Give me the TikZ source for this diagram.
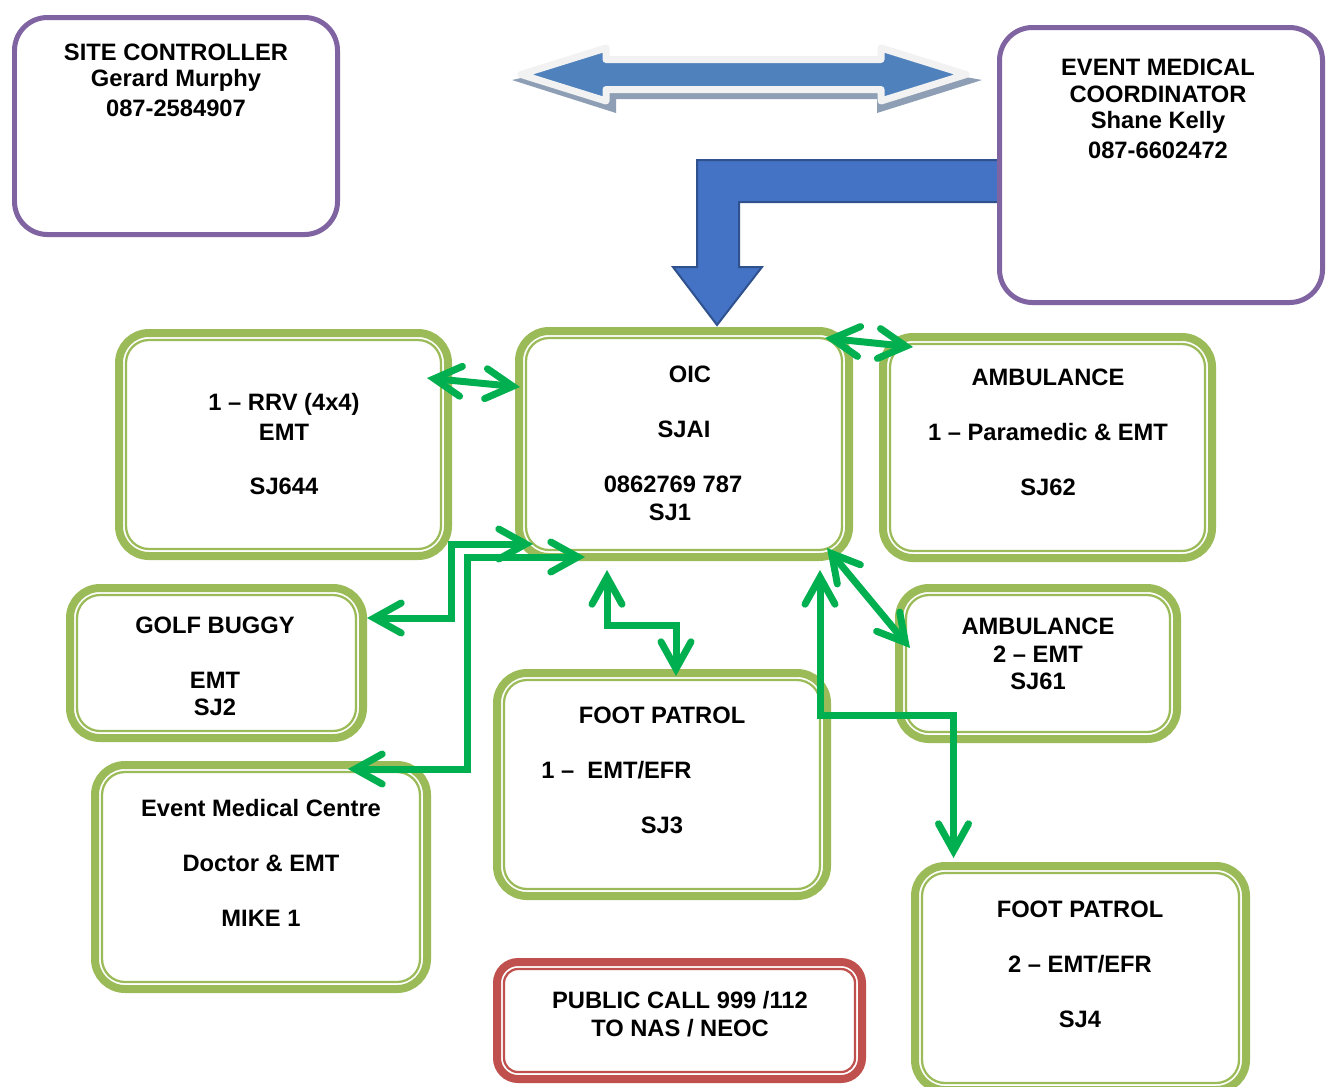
\documentclass[tikz,border=0pt]{standalone}
\usepackage{fontspec}
\setmainfont{Liberation Sans}
\usetikzlibrary{arrows.meta,calc,fit}
\definecolor{gbord}{HTML}{9BBB59}
\definecolor{garrow}{HTML}{00B050}
\definecolor{purp}{HTML}{8064A2}
\definecolor{redb}{HTML}{C0504D}
\definecolor{bluefill}{HTML}{4F81BD}
\definecolor{bluel}{HTML}{4472C4}
\definecolor{bluelo}{HTML}{2F528F}
\definecolor{shad}{HTML}{8E9FB5}
\definecolor{outl}{HTML}{F2F2F2}
\begin{document}
\begin{tikzpicture}[x=0.02cm,y=-0.02cm,
  lbl/.style={font=\bfseries\fontsize{13.5}{16}\selectfont, inner sep=0pt, anchor=center},
  pbox/.style={draw=purp, line width=0.1cm, rounded corners=0.66cm, fill=white, inner sep=0pt, outer sep=0pt},
  gouter/.style={draw=gbord, line width=0.16cm, rounded corners=0.6cm, fill=white, inner sep=0pt, outer sep=0pt},
  ginner/.style={draw=gbord, line width=0.045cm, rounded corners=0.46cm},
  router/.style={draw=redb, line width=0.16cm, rounded corners=0.42cm, fill=white, inner sep=0pt, outer sep=0pt},
  rinner/.style={draw=redb, line width=0.045cm, rounded corners=0.28cm},
  garr/.style={draw=garrow, line width=0.14cm, line join=miter,
    {Straight Barb[length=0.54cm,width=0.6cm,line cap=round]}-{Straight Barb[length=0.54cm,width=0.6cm,line cap=round]}}
]
\useasboundingbox (0,0) rectangle (1327,1086);
\fill[white] (0,0) rectangle (1327,1086);

% double-headed block arrow with shadow
\fill[shad] (512,80) -- (616,113) -- (616,99) -- (877,99) -- (877,113) -- (982,80) -- (960,76) -- (530,76) -- cycle;
\draw[draw=outl, line width=0.14cm, line join=round, fill=bluefill]
  (521,74.5) -- (606,48) -- (606,59.5) -- (881,59.5) -- (881,48) -- (966,74.5)
  -- (881,101) -- (881,89.5) -- (606,89.5) -- (606,101) -- cycle;

% bent block arrow
\draw[draw=bluelo, line width=0.04cm, fill=bluel]
  (1000,160) -- (697,160) -- (697,267) -- (673,267) -- (717,325) -- (762,267)
  -- (739,267) -- (739,202) -- (1000,202) -- cycle;

% purple boxes
\node[pbox, fit={(14.5,17.5) (337.5,234.5)}] (site) {};
\node[pbox, fit={(999.5,27.5) (1322.5,302.5)}] (emc) {};

% green boxes
\node[gouter, fit={(119,333) (448,556)}] (rrv) {};
\node[gouter, fit={(519,331) (849,557)}] (oic) {};
\node[gouter, fit={(883,337) (1212,558)}] (amb1) {};
\node[gouter, fit={(70,588) (363,738)}] (golf) {};
\node[gouter, fit={(899,588) (1177,739)}] (amb2) {};
\node[gouter, fit={(497,673) (827,896)}] (fp1) {};
\node[gouter, fit={(95,765) (427,989)}] (med) {};
\node[gouter, fit={(915,866) (1246,1090)}] (fp2) {};
\foreach \n in {rrv,oic,amb1,golf,amb2,fp1,med,fp2}
  \draw[ginner] ($(\n.south west)+(7,-7)$) rectangle ($(\n.north east)+(-7,7)$);

% red box
\node[router, fit={(497,962) (862,1079)}] (pub) {};
\draw[rinner] ($(pub.south west)+(7,-7)$) rectangle ($(pub.north east)+(-7,7)$);

% green connectors
\draw[garr] ($(rrv.north east)+(-21,45)$) -- ($(oic.north west)+(1,56)$);
\draw[garr] ($(oic.north east)+(-24,7)$) -- ($(amb1.north west)+(30,10)$);
\draw[garr] ($(golf.north east)+(4,30)$) -- ++(84,0) |- ($(oic.south west)+(14,-13)$);
\draw[garr] ($(med.north east)+(-79,4)$) -- ++(119,0) |- ($(oic.south west)+(66,0)$);
\draw[garr] ($(oic.south)+(-77,13)$) -- ++(0,55) -| ($(fp1.north)+(14,3)$);
\draw[garr] ($(oic.south east)+(-22,-9)$) -- ($(amb2.north west)+(11,60)$);
\draw[garr] ($(oic.south east)+(-29,13)$) -- ++(0,145) -| ($(fp2.north)+(-127,-8)$);

% texts
\node[lbl] (s1) at (176,52) {SITE CONTROLLER};
\node[lbl] (s2) at (176,80) {Gerard Murphy};
\node[lbl] (s3) at (176,108) {087-2584907};

\node[lbl] (e1) at (1158,67) {EVENT MEDICAL};
\node[lbl] (e2) at (1158,94) {COORDINATOR};
\node[lbl] (e3) at (1158,122) {Shane Kelly};
\node[lbl] (e4) at (1158,150) {087-6602472};

\node[lbl] (r1) at (284,404) {1 – RRV (4x4)};
\node[lbl] (r2) at (284,432) {EMT};
\node[lbl] (r3) at (284,486) {SJ644};

\node[lbl] (o1) at (690,374) {OIC};
\node[lbl] (o2) at (684,429) {SJAI};
\node[lbl] (o3) at (673,484) {0862769 787};
\node[lbl] (o4) at (670,512) {SJ1};

\node[lbl] (a1) at (1048,377) {AMBULANCE};
\node[lbl] (a2) at (1048,432) {1 – Paramedic \& EMT};
\node[lbl] (a3) at (1048,487) {SJ62};

\node[lbl] (g1) at (215,625) {GOLF BUGGY};
\node[lbl] (g2) at (215,680) {EMT};
\node[lbl] (g3) at (215,707) {SJ2};

\node[lbl] (b1) at (1038,626) {AMBULANCE};
\node[lbl] (b2) at (1038,654) {2 – EMT};
\node[lbl] (b3) at (1038,681) {SJ61};

\node[lbl] (f1) at (662,715) {FOOT PATROL};
\node[lbl, anchor=west] (f2) at (541,770) {1 –\ \ EMT/EFR};
\node[lbl] (f3) at (662,825) {SJ3};

\node[lbl] (m1) at (261,808) {Event Medical Centre};
\node[lbl] (m2) at (261,863) {Doctor \& EMT};
\node[lbl] (m3) at (261,918) {MIKE 1};

\node[lbl] (h1) at (1080,909) {FOOT PATROL};
\node[lbl] (h2) at (1080,964) {2 – EMT/EFR};
\node[lbl] (h3) at (1080,1019) {SJ4};

\node[lbl] (p1) at (680,1000) {PUBLIC CALL 999 /112};
\node[lbl] (p2) at (680,1028) {TO NAS / NEOC};
\end{tikzpicture}
\end{document}
